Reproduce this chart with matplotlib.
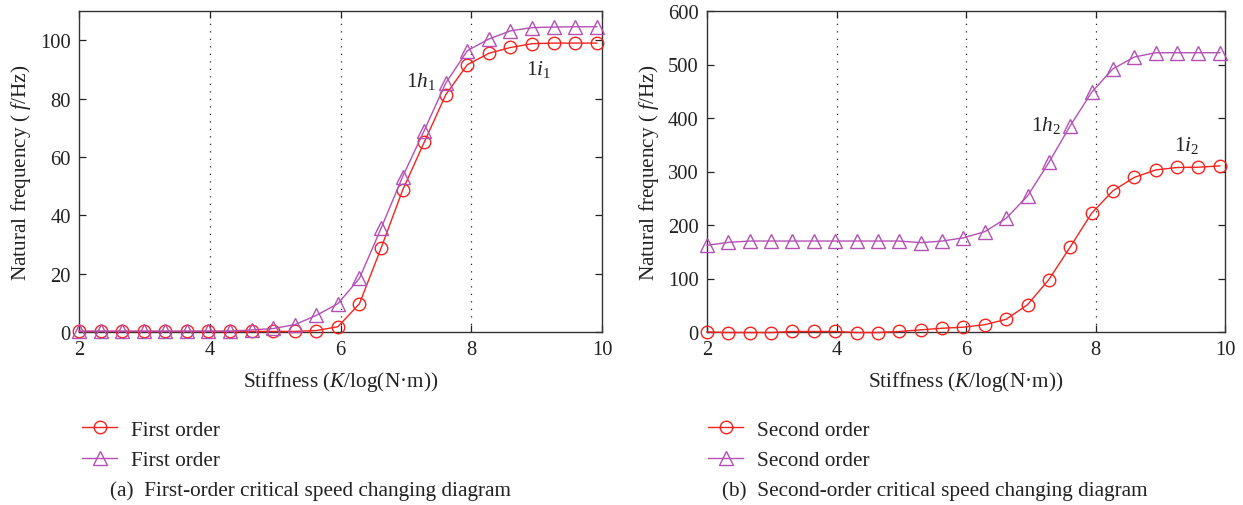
import matplotlib
matplotlib.use("Agg")
import matplotlib.pyplot as plt

plt.rcParams['font.family'] = ['Liberation Serif', 'DejaVu Serif']
plt.rcParams['mathtext.fontset'] = 'custom'
plt.rcParams['mathtext.rm'] = 'Liberation Serif'
plt.rcParams['mathtext.it'] = 'Liberation Serif:italic'

# stiffness values (log scale) shared by both panels
stiffness = [2.00, 2.33, 2.66, 2.99, 3.32, 3.65, 3.98, 4.31, 4.64, 4.97, 5.30, 5.63, 5.96,
             6.29, 6.62, 6.95, 7.28, 7.61, 7.94, 8.27, 8.60, 8.93, 9.26, 9.59, 9.92]

first_i = [0.2, 0.2, 0.2, 0.2, 0.2, 0.2, 0.2, 0.2, 0.2, 0.2, 0.2, 0.5, 1.8,
           9.7, 28.7, 48.6, 65.0, 81.3, 91.6, 95.5, 97.5, 98.8, 99.0, 99.0, 99.0]
first_h = [0.3, 0.3, 0.3, 0.3, 0.3, 0.3, 0.3, 0.3, 0.7, 1.2, 2.5, 5.7, 9.7,
           18.4, 35.5, 53.2, 69.0, 85.3, 96.4, 100.4, 103.2, 104.3, 104.5, 104.6, 104.6]

second_i = [0, -1, -1, -1, 1, 1, 1, -1, -1, 1, 4, 7, 9,
            13.7, 23.7, 51, 98, 159, 222, 264, 289, 303, 307.5, 308, 310.5]
second_h = [162, 167.5, 170, 170, 170, 170, 170, 170, 170, 170, 167, 170, 176,
            187.5, 212.5, 254, 317, 385.6, 448, 492, 514, 522, 522, 522, 522]

legend_a = ['First order', 'First order']
legend_b = ['Second order', 'Second order']
captions = ['(a)  First-order critical speed changing diagram',
            '(b)  Second-order critical speed changing diagram']

RED = '#f5231e'
PURPLE = '#b450b4'
FS = 15.3

fig = plt.figure(figsize=(12.43, 5.06), dpi=100)
W, H = 1243, 506
ax1 = fig.add_axes([79 / W, (506 - 333) / H, 523 / W, 321 / H])
ax2 = fig.add_axes([707 / W, (506 - 333) / H, 518 / W, 321 / H])


def panel(ax, yi, yh, ylim, yticks, labels, lab_pos, caption, leg_x, cap_x):
    li, = ax.plot(stiffness, yi, color=RED, lw=1.0, marker='o', ms=9,
                  mfc='none', mec=RED, mew=1.0, clip_on=False, zorder=3)
    lh, = ax.plot(stiffness, yh, color=PURPLE, lw=1.0, marker='^', ms=10,
                  mfc='none', mec=PURPLE, mew=1.0, clip_on=False, zorder=3)
    ax.set_xlim(2, 10)
    ax.set_ylim(*ylim)
    ax.set_xticks([2, 4, 6, 8, 10])
    ax.set_yticks(yticks)
    for x in [4, 6, 8]:
        ax.axvline(x, color='#222222', lw=0.9, ls=(0, (1, 5)), zorder=1)
    ax.tick_params(direction='in', length=5, width=0.9, labelsize=FS - 0.5,
                   top=True, right=True, colors='#222222', pad=6)
    for s in ax.spines.values():
        s.set_linewidth(1.0)
        s.set_color('#333333')
    ax.set_xlabel('Stiffness ($K$/log(N·m))', fontsize=FS, color='#222222', labelpad=7)
    ax.set_ylabel('Natural frequency ( $f$/Hz)', fontsize=FS, color='#222222', labelpad=5)
    for (txt, x, y) in zip(labels, lab_pos[0], lab_pos[1]):
        ax.text(x, y, txt, fontsize=FS, ha='center', va='center', color='#222222')
    leg = ax.legend([li, lh], caption[0], loc='upper left',
                    bbox_to_anchor=(leg_x / W, 1 - 421 / H), bbox_transform=fig.transFigure,
                    frameon=False, fontsize=FS, handlelength=1.65, handletextpad=0.65,
                    labelspacing=0.5, borderpad=0, borderaxespad=0)
    for t in leg.get_texts():
        t.set_color('#222222')
    fig.text(cap_x / W, 1 - 491 / H, caption[1], fontsize=FS, ha='left', va='center',
             color='#222222')


panel(ax1, first_i, first_h, (0, 110), [0, 20, 40, 60, 80, 100],
      ['$1h_1$', '$1i_1$'], ([7.23, 9.03], [86.3, 90.4]),
      (legend_a, captions[0]), 82, 110)
panel(ax2, second_i, second_h, (0, 600), [0, 100, 200, 300, 400, 500, 600],
      ['$1h_2$', '$1i_2$'], ([7.23, 9.41], [387, 350]),
      (legend_b, captions[1]), 708, 722)

fig.savefig('out.png', dpi=100)
